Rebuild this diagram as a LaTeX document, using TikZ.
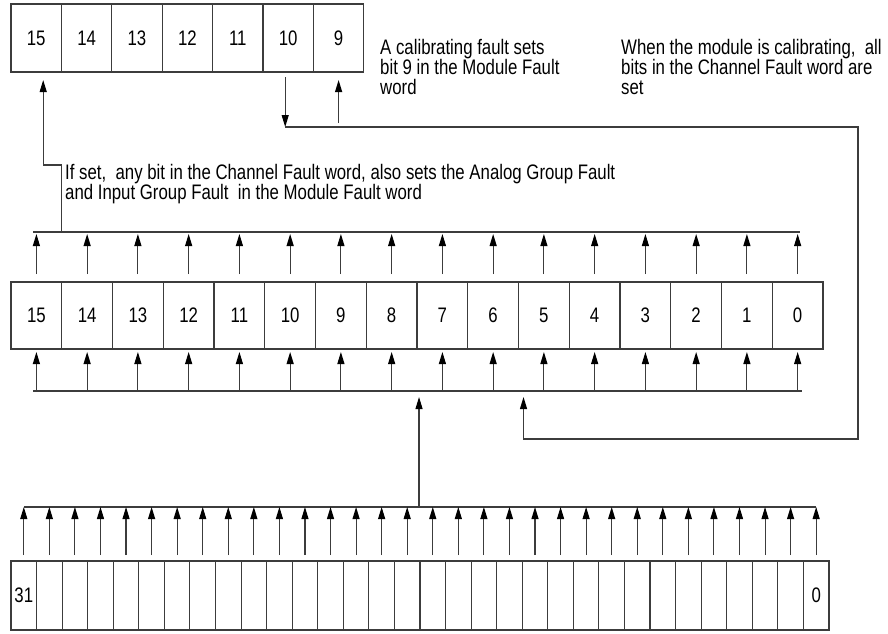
\documentclass[tikz,border=0pt]{standalone}
\usepackage{fontspec}
\setmainfont[FakeStretch=0.8]{Liberation Sans}
\usetikzlibrary{arrows.meta}
\definecolor{wire}{HTML}{3C3C3C}
\tikzstyle{bitcell}=[rectangle,draw=wire,line width=1.1pt,inner sep=0pt,
  outer sep=0pt,font=\fontsize{21}{21}\selectfont]
\tikzstyle{arr}=[-{Triangle[length=12pt,width=7pt,color=black]},
  line width=1.1pt,color=wire]
\tikzstyle{bus}=[line width=1.2pt,color=wire]
\tikzstyle{note}=[align=left,anchor=base west,inner sep=0pt,
  font=\fontsize{21}{20}\selectfont]

\begin{document}
\begin{tikzpicture}[x=1pt,y=-1pt]
  \useasboundingbox (0,0) rectangle (888,633);
  % module fault word (bits 15..9)
  \foreach \b [count=\i from 0] in {15,14,...,9}
    \node[bitcell,minimum width=50.4pt,minimum height=68pt] (mf\b) at (36.2+50.4*\i,38) {\b};
  % channel fault word (bits 15..0)
  \foreach \b [count=\i from 0] in {15,14,...,0}
    \node[bitcell,minimum width=50.75pt,minimum height=67pt] (cf\b) at (36.4+50.75*\i,315.5) {\b};
  % channel status word (bits 31..0)
  \foreach \b [count=\i from 0] in {31,30,...,0}
    \node[bitcell,minimum width=25.56pt,minimum height=69pt] (ch\b) at (23.8+25.56*\i,595.5)
      {\ifnum\b=31 31\else\ifnum\b=0 0\fi\fi};

  \coordinate (mfbus) at (0,232);
  \coordinate (cfbus) at (0,391);
  \coordinate (chbus) at (0,507);

  % status bits -> channel fault word
  \draw[bus] (ch31 |- chbus) -- (ch0 |- chbus);
  \foreach \b in {0,...,31}
    \draw[arr] ([yshift=6pt]ch\b.north) -- (ch\b |- chbus);
  \draw[arr] ([xshift=2pt]cf8.south east |- chbus) -- ([xshift=2pt,yshift=-6pt]cf8.south east |- cfbus);

  \draw[bus] ([xshift=-3pt]cf15 |- cfbus) -- ([xshift=4pt]cf0 |- cfbus);
  \foreach \b in {0,...,15}
    \draw[arr] (cf\b |- cfbus) -- ([yshift=-3pt]cf\b.south);

  % channel fault word -> module fault word
  \foreach \b in {0,...,15}
    \draw[arr] ([yshift=8pt]cf\b.north) -- ([yshift=-2pt]cf\b |- mfbus);
  \draw[bus] ([xshift=-3pt]cf15 |- mfbus) -- ([xshift=2pt]cf0 |- mfbus);
  \draw[arr] (cf15.north east |- mfbus) -- ++(0,-67) -| ([xshift=7pt,yshift=-8pt]mf15.south);

  % calibrating
  \coordinate (calib) at ([xshift=-3pt,yshift=-55pt]mf10.south);
  \draw[arr] ([xshift=-3pt,yshift=-5pt]mf10.south) -- (calib);
  \coordinate (loopR) at (858,439);
  \draw[arr] (calib) -| (loopR) -| ([xshift=5pt,yshift=-6pt]cf5.south west |- cfbus);
  \draw[arr] ([yshift=-51pt]mf9.south) -- ([yshift=-8pt]mf9.south);

  \node[note] (calibnote) at (380,94) {A calibrating fault sets\\bit 9 in the Module Fault\\word};
  \node[note] (allnote) at (621,94) {When the module is calibrating,~ all\\bits in the Channel Fault word are\\set};
  \node[note] (setnote) at (65,199) {If set,~ any bit in the Channel Fault word, also sets the Analog Group Fault\\and Input Group Fault~ in the Module Fault word};
\end{tikzpicture}
\end{document}
